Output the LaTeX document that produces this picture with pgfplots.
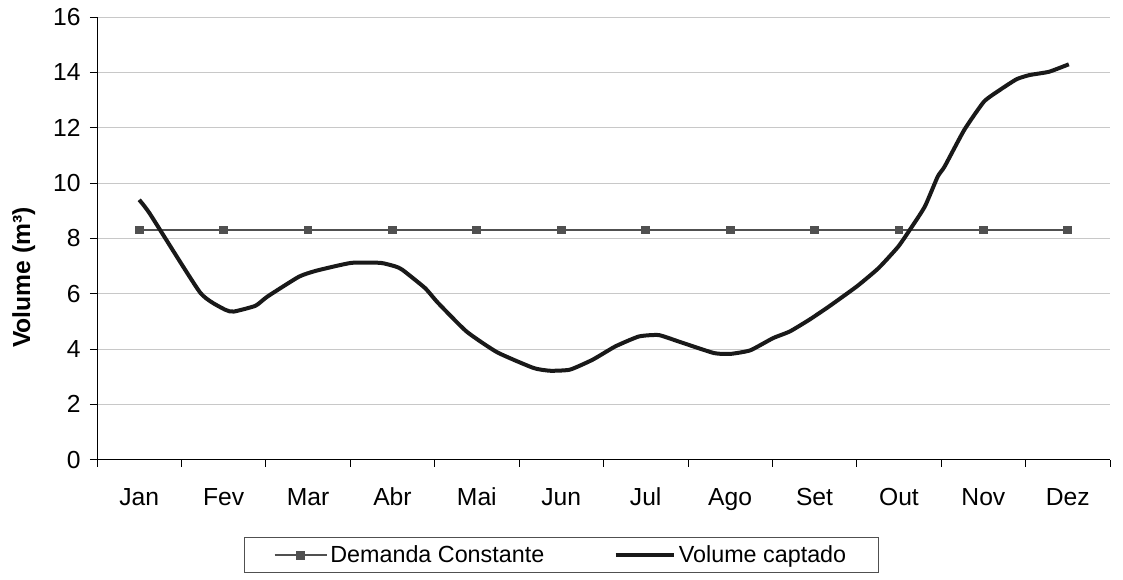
\documentclass[border=0pt]{standalone}
\usepackage{pgfplots}
\pgfplotsset{compat=1.18}
\usepackage{fontspec}
\setmainfont{Liberation Sans}

\definecolor{demanda}{RGB}{80,80,80}
\definecolor{gridc}{RGB}{200,200,200}

\pgfplotsset{
  legdem/.style={legend image code/.code={\draw[mark repeat=2,mark phase=2,##1]
      plot coordinates {(0pt,0pt)(19.5pt,0pt)(39pt,0pt)};}},
  legvol/.style={legend image code/.code={\draw[##1] (0pt,0pt) -- (44pt,0pt);}},
}

\begin{document}
\begin{tikzpicture}
% picture frame: 1 px of the reference = 0.75pt
\useasboundingbox (-72.75pt,-90pt) rectangle (769.75pt,344.75pt);
\begin{axis}[
    at={(0,0)}, anchor=south west,
    width=760pt, height=332pt,
    scale only axis,
    xmin=0.5, xmax=12.5,
    ymin=0, ymax=16,
    ytick={0,2,...,16},
    xtick={1,...,12},
    xticklabels={Jan,Fev,Mar,Abr,Mai,Jun,Jul,Ago,Set,Out,Nov,Dez},
    minor xtick={0.5,1.5,...,12.5},
    major x tick style={draw=none},
    minor x tick style={black, line width=0.6pt},
    xtick pos=bottom, ytick pos=left,
    tick align=outside,
    major tick length=5.25pt, minor tick length=5.25pt,
    ytick style={black, line width=0.6pt},
    axis x line*=bottom, axis y line*=left,
    axis line style={black, line width=0.6pt, -},
    ymajorgrids=true,
    grid style={gridc, line width=0.6pt},
    tick label style={font=\fontsize{18.5}{22}\selectfont},
    /pgf/number format/assume math mode=true,
    xticklabel style={anchor=base, yshift=-29.5pt},
    yticklabel style={xshift=-3.5pt},
    ylabel={\textbf{Volume (m³)}},
    every axis y label/.style={at={(rel axis cs:0,0.411)}, xshift=-55pt,
        rotate=90, anchor=center, font=\fontsize{18.5}{22}\selectfont},
    legend style={at={(rel axis cs:0.1451,-0.1761)}, anchor=north west,
        draw=demanda, line width=0.6pt,
        font=\fontsize{17.5}{21}\selectfont,
        legend columns=2, /tikz/every even column/.append style={column sep=50pt},
        inner xsep=22pt, inner ysep=4pt},
    legend cell align=left,
    clip=false,
]
\addplot[demanda, line width=1.5pt, mark=square*, mark size=2.6pt,
    mark options={fill=demanda, draw=demanda}, legdem]
coordinates {
(1,8.3)(2,8.3)(3,8.3)(4,8.3)(5,8.3)(6,8.3)(7,8.3)(8,8.3)(9,8.3)(10,8.3)(11,8.3)(12,8.3)
};
\addlegendentry{Demanda Constante}

\addplot[black!90, line width=3pt, smooth, tension=0.3, legvol]
coordinates {
(1.000,9.39)(1.128,8.88)(1.724,6.03)(2.016,5.42)(2.121,5.35)(2.378,5.56)
(2.518,5.89)(2.892,6.61)(3.102,6.83)(3.511,7.11)(3.861,7.11)(4.036,6.98)
(4.118,6.86)(4.386,6.20)(4.538,5.67)(4.877,4.63)(5.239,3.88)(5.671,3.31)
(5.869,3.21)(6.103,3.25)(6.372,3.61)(6.640,4.09)(6.920,4.45)(7.154,4.50)
(7.388,4.27)(7.808,3.85)(8.006,3.82)(8.240,3.95)(8.509,4.39)(8.707,4.63)
(8.941,5.06)(9.174,5.54)(9.501,6.26)(9.758,6.92)(9.992,7.70)(10.143,8.37)
(10.307,9.15)(10.459,10.23)(10.540,10.59)(10.774,11.92)(11.007,12.94)
(11.194,13.36)(11.393,13.75)(11.545,13.90)(11.778,14.02)(12.012,14.29)
};
\addlegendentry{Volume captado}
\end{axis}
\end{tikzpicture}
\end{document}
